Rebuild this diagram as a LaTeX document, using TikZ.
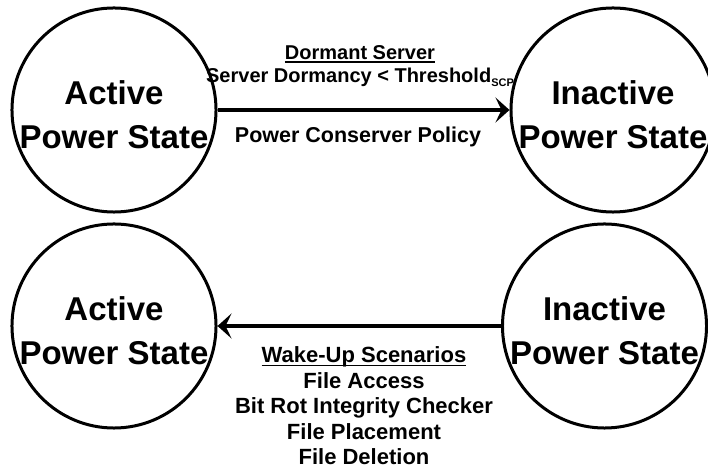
\documentclass[tikz,border=0pt]{standalone}
\usepackage{fontspec}
\setmainfont{Liberation Sans}
\usetikzlibrary{arrows.meta}
% heavy underline for the label headings
\newcommand\ulbox[1]{\setbox0\hbox{#1}\rlap{\rule[-3.5pt]{\wd0}{1.5pt}}\box0}
\begin{document}
\begin{tikzpicture}[x=1pt,y=1pt,
  state/.style={circle, draw, line width=3pt, minimum size=198pt, inner sep=0pt,
    align=center, font=\bfseries\fontsize{33}{44}\selectfont},
  trans/.style={line width=4pt, -{Stealth[length=14pt,width=25pt,inset=6pt]}},
  lbl/.style={align=center, inner sep=0pt, font=\bfseries\fontsize{20}{23}\selectfont}]
\useasboundingbox (0,0) rectangle (708,470);

% power states
\node[state] (a1) at (114,360)   {\rule{0pt}{33pt}Active\\Power State};
\node[state] (i1) at (613,360)   {\rule{0pt}{33pt}Inactive\\Power State};
\node[state] (a2) at (114,144)   {\rule{0pt}{33pt}Active\\Power State};
\node[state] (i2) at (604.5,144) {\rule{0pt}{33pt}Inactive\\Power State};

% transitions
\draw[trans] (a1) -- (i1);
\draw[trans] (i2) -- (a2);

% transition labels
\node[lbl] (dorm) at (360,404) {\ulbox{Dormant Server}\\Server Dormancy < Threshold\raisebox{-4pt}{\fontsize{11}{11}\selectfont SCP}};
\node[lbl, font=\bfseries\fontsize{21.5}{25}\selectfont] (pcp) at (358,333) {Power Conserver Policy};
\node[lbl, font=\bfseries\fontsize{22}{25.5}\selectfont] (wake) at (364,64)
  {\ulbox{Wake-Up Scenarios}\\File Access\\Bit Rot Integrity Checker\\File Placement\\File Deletion};
\end{tikzpicture}
\end{document}
